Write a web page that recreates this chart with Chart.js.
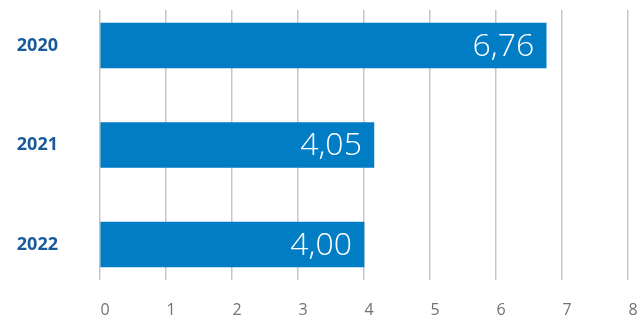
<!DOCTYPE html>
<html>
<head>
<meta charset="utf-8">
<script src="https://cdn.jsdelivr.net/npm/chart.js@4/dist/chart.umd.min.js"></script>
<style>
html,body{margin:0;padding:0;background:#fff;}
#wrap{width:642px;height:320px;position:relative;}
</style>
</head>
<body>
<div id="wrap"><canvas id="c" width="642" height="320"></canvas></div>
<script>
const categories = ["2020", "2021", "2022"];
const barValues = [6.76, 4.15, 4.00];
const valueLabels = ["6,76", "4,05", "4,00"];
const xTicks = [0, 1, 2, 3, 4, 5, 6, 7, 8];

const points = barValues.map((v, i) => ({ x: v, y: i }));

const valueLabelPlugin = {
  id: 'valueLabels',
  afterDatasetsDraw(chart) {
    const ctx = chart.ctx;
    const meta = chart.getDatasetMeta(0);
    ctx.save();
    ctx.fillStyle = '#ffffff';
    ctx.font = '300 32px "Open Sans"';
    ctx.textAlign = 'right';
    ctx.textBaseline = 'middle';
    meta.data.forEach((bar, i) => {
      ctx.fillText(valueLabels[i], bar.x - 12, bar.y + 1);
    });
    ctx.restore();
  }
};

new Chart(document.getElementById('c'), {
  type: 'bar',
  data: {
    datasets: [{
      data: points,
      backgroundColor: '#007dc5',
      borderWidth: 0,
      barThickness: 45
    }]
  },
  options: {
    indexAxis: 'y',
    responsive: false,
    animation: false,
    layout: { padding: { top: 10, right: 14, left: 0, bottom: 0 } },
    plugins: { legend: { display: false }, tooltip: { enabled: false } },
    scales: {
      x: {
        type: 'linear',
        min: 0,
        max: 8,
        afterBuildTicks(scale) { scale.ticks = xTicks.map(v => ({ value: v })); },
        afterFit(scale) { scale.paddingRight = 0; scale.paddingLeft = 0; scale.height = 40; },
        border: { display: false },
        grid: { color: '#c6c6c6', lineWidth: 1.5, drawTicks: false },
        ticks: {
          padding: 21,
          labelOffset: 5,
          color: '#727272',
          font: { family: '"Open Sans"', size: 16 }
        }
      },
      y: {
        type: 'linear',
        reverse: true,
        offset: false,
        min: -0.357,
        max: 2.357,
        afterBuildTicks(scale) { scale.ticks = categories.map((c, i) => ({ value: i })); },
        afterFit(scale) { scale.width = 100; scale.paddingTop = 0; scale.paddingBottom = 0; },
        border: { display: false },
        grid: { display: false, drawTicks: false, offset: false },
        ticks: {
          padding: 42,
          color: '#1a5a9b',
          font: { family: '"Open Sans"', size: 18, weight: 'bold' },
          callback: (v) => categories[v]
        }
      }
    }
  },
  plugins: [valueLabelPlugin]
});
</script>
</body>
</html>
